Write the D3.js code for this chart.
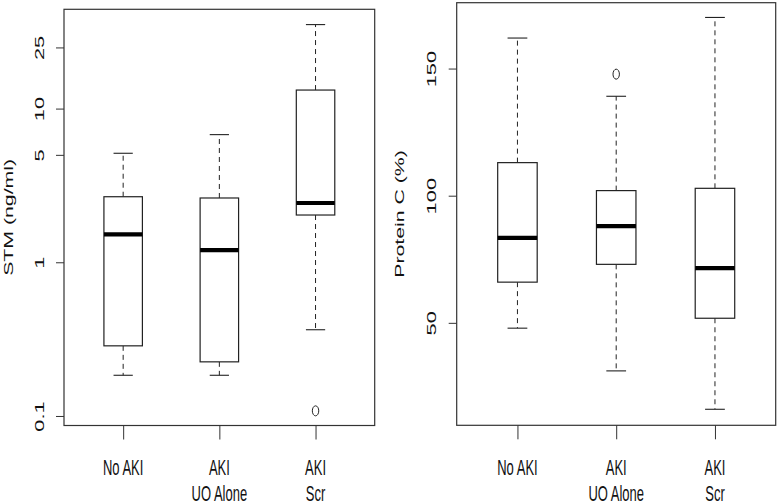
<!DOCTYPE html>
<html><head><meta charset="utf-8">
<script src="https://cdn.jsdelivr.net/npm/d3@7"></script>
<style>body{margin:0;background:#fff}svg{display:block}text{font-family:"Liberation Sans",Arial,sans-serif;fill:#111}</style>
</head><body><svg id="c" width="778" height="504"></svg>
<script>
// ---- data ----
const categories = ["No AKI", "AKI UO Alone", "AKI Scr"];
const catLines = [["No AKI"], ["AKI", "UO Alone"], ["AKI", "Scr"]];
// STM (ng/ml): [lower whisker, Q1, median, Q3, upper whisker]
const stmStats = [
  [0.184, 0.286, 1.52, 2.67, 5.12],
  [0.184, 0.225, 1.20, 2.62, 6.77],
  [0.364, 2.03, 2.43, 13.2, 35.2]
];
const stmOutliers = [[], [], [0.108]];
const stmTicks = [0.1, 1, 5, 10, 25];
// Protein C (%)
const pcStats = [
  [47.9, 66, 83.4, 113, 162],
  [31.1, 73, 88, 102, 139.1],
  [16, 51.8, 71.5, 102.9, 170.1]
];
const pcOutliers = [[], [147.8], []];
const pcTicks = [50, 100, 150];

const S = 1.75;   // vertical stretch of the original picture
const FS = 12.5;
const svg = d3.select("#c");

function panel(cfg) {
  const g = svg.append("g");
  const x = d3.scalePoint().domain(categories).range([cfg.left, cfg.right]).padding(0.615);
  const y = cfg.y;
  const step = x.step();
  const bw = step * 0.4, cw = step * 0.2;
  // frame
  g.append("rect").attr("x", cfg.left).attr("y", cfg.top)
    .attr("width", cfg.right - cfg.left).attr("height", cfg.bottom - cfg.top)
    .attr("fill", "none").attr("stroke", "#333").attr("stroke-width", 1.2);
  // y axis
  const ya = g.append("g").attr("transform", `translate(${cfg.left},0)`)
    .call(d3.axisLeft(y).tickValues(cfg.ticks).tickSize(8).tickFormat(d => String(d)));
  ya.select(".domain").remove();
  ya.selectAll(".tick line").attr("stroke", "#333").attr("stroke-width", 1);
  ya.selectAll(".tick text").attr("x", null).attr("dy", null)
    .attr("text-anchor", "middle").attr("font-size", FS).attr("fill", "#111")
    .attr("transform", `translate(${cfg.tickLabX - cfg.left},0) rotate(-90) scale(${S},1)`);
  // x axis
  const xa = g.append("g").attr("transform", `translate(0,${cfg.bottom})`)
    .call(d3.axisBottom(x).tickSize(14).tickFormat(""));
  xa.select(".domain").remove();
  xa.selectAll(".tick line").attr("stroke", "#333").attr("stroke-width", 1);
  categories.forEach((c, i) => {
    catLines[i].forEach((t, j) => {
      g.append("text").attr("text-anchor", "middle").attr("font-size", 13)
        .attr("transform", `translate(${x(c)},${475 + j * 25.5}) scale(1,${S})`).text(t);
    });
  });
  // y title
  g.append("text").attr("text-anchor", "middle").attr("font-size", FS + 1)
    .attr("transform", `translate(${cfg.titleX},${(cfg.top + cfg.bottom) / 2}) rotate(-90) scale(${S * 0.9},1)`)
    .text(cfg.title);
  // boxes
  cfg.stats.forEach((s, i) => {
    const cx = x(categories[i]);
    const [lo, q1, md, q3, hi] = s;
    const bg = g.append("g").attr("stroke", "#222").attr("fill", "none");
    bg.append("line").attr("x1", cx).attr("x2", cx).attr("y1", y(q3)).attr("y2", y(hi))
      .attr("stroke-dasharray", "5,4").attr("stroke-width", 1);
    bg.append("line").attr("x1", cx).attr("x2", cx).attr("y1", y(q1)).attr("y2", y(lo))
      .attr("stroke-dasharray", "5,4").attr("stroke-width", 1);
    [lo, hi].forEach(v => bg.append("line").attr("x1", cx - cw / 2).attr("x2", cx + cw / 2)
      .attr("y1", y(v)).attr("y2", y(v)).attr("stroke-width", 1.1));
    bg.append("rect").attr("x", cx - bw / 2).attr("width", bw)
      .attr("y", y(q3)).attr("height", y(q1) - y(q3)).attr("fill", "#fff").attr("stroke-width", 1.2);
    bg.append("line").attr("x1", cx - bw / 2).attr("x2", cx + bw / 2)
      .attr("y1", y(md)).attr("y2", y(md)).attr("stroke", "#000").attr("stroke-width", 4.2);
    cfg.outliers[i].forEach(v => bg.append("ellipse").attr("cx", cx).attr("cy", y(v))
      .attr("rx", 3.2).attr("ry", 5).attr("stroke-width", 1));
  });
}

panel({
  left: 64, right: 374.7, top: 9.3, bottom: 425.5,
  y: d3.scaleLog().domain([0.0867, 44.26]).range([425.5, 9.3]),
  ticks: stmTicks, tickLabX: 43.5, titleX: 13.3, title: "STM (ng/ml)",
  stats: stmStats, outliers: stmOutliers
});
panel({
  left: 456.7, right: 775.7, top: 2.7, bottom: 425.3,
  y: d3.scaleLinear().domain([9.7, 175.9]).range([425.3, 2.7]),
  ticks: pcTicks, tickLabX: 435.5, titleX: 403.5, title: "Protein C (%)",
  stats: pcStats, outliers: pcOutliers
});
</script></body></html>
